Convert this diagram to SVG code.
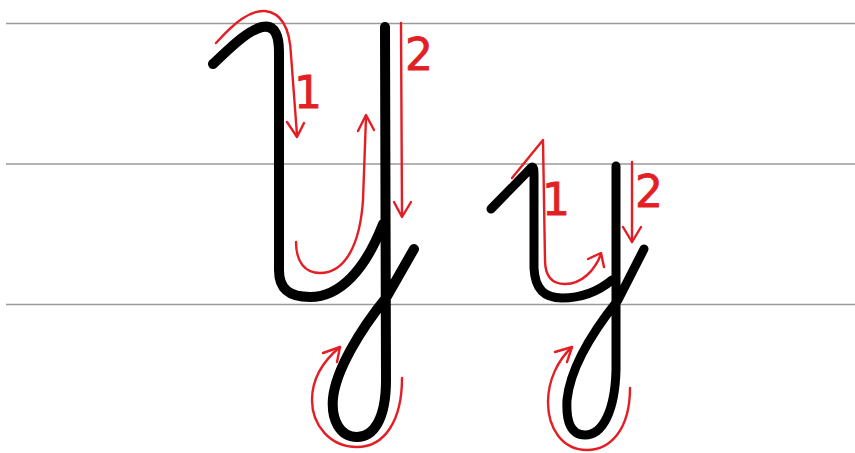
<svg xmlns="http://www.w3.org/2000/svg" width="855" height="453" viewBox="0 0 855 453">
<style>
.guide{stroke:#9a9a9a;stroke-width:1.5;fill:none}
.ink{stroke:#000;fill:none;stroke-linecap:round;stroke-linejoin:round}
.red{stroke:#e31e24;stroke-width:2.4;fill:none;stroke-linecap:round;stroke-linejoin:round}
.num{fill:#e31e24;stroke:#e31e24;stroke-width:0.8;font-family:"DejaVu Sans",sans-serif;font-size:44px;text-anchor:middle}
</style>
<rect width="855" height="453" fill="#fff"/>
<g id="guides">
<line class="guide" x1="6" y1="23.5" x2="855" y2="23.5"/>
<line class="guide" x1="6" y1="164" x2="855" y2="164"/>
<line class="guide" x1="6" y1="304.5" x2="855" y2="304.5"/>
</g>
<g id="capital-Y">
<path class="ink" stroke-width="10" d="M213,64 C230,48 248,30 262,27 C276,24 279,38 279,52 L279,270 C279,290 290,297 310,297 C340,297 365,270 383,224"/>
<path class="ink" stroke-width="10" d="M385,27 L386,380 C386,420 373,437 357,437 C340,437 331,420 333,398 C336,370 360,330 386,298 L414,249"/>
</g>
<g id="small-y">
<path class="ink" stroke-width="9" d="M491,209 L531,168 C534,165 534,170 534,178 L534,268 C535,290 545,298 562,298 C585,298 600,290 612,280"/>
<path class="ink" stroke-width="9" d="M616,166 L616,370 C615,410 603,435 585,435 C570,435 566,420 567,400 C570,370 590,335 618,300 L644,249"/>
</g>
<g id="connectors">
<path class="red" d="M216,43 C235,22 250,10 265,11 C283,13 290,30 291,55 L297,135"/>
<path class="red" d="M287,122 L297,137 L304,123"/>
<path class="red" d="M401,23 L402,215"/>
<path class="red" d="M394,202 L402,217 L411,202"/>
<path class="red" d="M296,242 C296,262 305,273 320,273 C345,273 360,245 363,200 L366,117"/>
<path class="red" d="M358,131 L366,115 L374,130"/>
<path class="red" d="M402,378 C402,420 385,447 357,447 C330,447 312,425 312,400 C312,380 322,362 340,347"/>
<path class="red" d="M323,353 L340,347 L337,362"/>
<path class="red" d="M512,178 L543,140 L545,260 C545,278 553,284 565,284 C582,284 595,270 601,254"/>
<path class="red" d="M588,259 L601,253 L604,267"/>
<path class="red" d="M632,162 L632,242"/>
<path class="red" d="M623,227 L632,242 L641,227"/>
<path class="red" d="M630,388 C630,430 610,450 587,450 C562,450 548,428 548,402 C548,380 558,360 572,347"/>
<path class="red" d="M555,352 L572,347 L567,362"/>
</g>
<g id="labels">
<text class="num" x="308" y="108">1</text>
<text class="num" x="419" y="70">2</text>
<text class="num" x="556" y="215">1</text>
<text class="num" x="649" y="207">2</text>
</g>
</svg>
